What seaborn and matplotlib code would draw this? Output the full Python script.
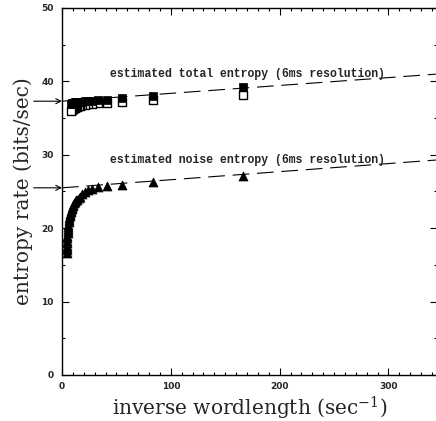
import pandas as pd
import matplotlib
matplotlib.use("Agg")
import matplotlib.pyplot as plt
import seaborn as sns
from matplotlib.ticker import MultipleLocator

# --- data ---
# inverse wordlength (1/sec) for word lengths of 1, 2, 3 ... bins of 6 ms
total_x = [166.7, 83.3, 55.6, 41.7, 33.3, 27.8, 23.8, 20.8, 18.5, 16.7,
           15.2, 13.9, 12.8, 11.9, 11.1, 10.4, 9.8, 9.26, 8.77, 8.33]
total_filled = [39.2, 38.0, 37.75, 37.5, 37.4, 37.35, 37.3, 37.3, 37.25, 37.25,
                37.2, 37.2, 37.2, 37.15, 37.1, 37.1, 37.05, 37.0, 36.95, 36.9]
total_open = [38.1, 37.4, 37.2, 37.1, 37.0, 36.95, 36.9, 36.8, 36.75, 36.7,
              36.6, 36.5, 36.45, 36.4, 36.35, 36.3, 36.25, 36.2, 36.1, 36.0]

noise_x = [166.7, 83.3, 55.6, 41.7, 33.3, 27.8, 23.8, 20.8, 18.5, 16.7,
           15.2, 13.9, 12.8, 11.9, 11.1, 10.4, 9.8, 9.26, 8.77, 8.33,
           7.94, 7.58, 7.25, 6.94, 6.67, 6.41, 6.17, 5.95, 5.75, 5.56,
           5.38, 5.21, 5.05, 4.90, 4.76, 4.63, 4.51, 4.39, 4.27, 4.17]
noise_y = [27.1, 26.3, 25.9, 25.8, 25.6, 25.4, 25.2, 24.9, 24.6, 24.3,
           24.1, 23.9, 23.8, 23.6, 23.4, 23.2, 23.0, 22.8, 22.6, 22.4,
           22.2, 22.0, 21.8, 21.6, 21.35, 21.1, 20.8, 20.5, 20.2, 19.9,
           19.6, 19.3, 18.9, 18.6, 18.3, 18.0, 17.6, 17.3, 17.0, 16.6]

# linear extrapolations to infinite word length
fit_x = [0, 345]
total_fit = [37.3, 41.0]
noise_fit = [25.5, 29.3]

sns.set_theme(style="ticks")
plt.rcParams['font.family'] = ['DejaVu Serif']
plt.rcParams['mathtext.fontset'] = 'dejavuserif'

fig = plt.figure(figsize=(4.36, 4.21), dpi=100)
ax = fig.add_axes([0.1422, 0.1093, 0.861, 0.8717])

df_total = pd.DataFrame({'x': total_x, 'filled': total_filled, 'open': total_open})
df_noise = pd.DataFrame({'x': noise_x, 'y': noise_y})
df_fit = pd.DataFrame({'x': fit_x, 'total': total_fit, 'noise': noise_fit})

# dashed fit lines
for col in ['total', 'noise']:
    sns.lineplot(data=df_fit, x='x', y=col, ax=ax, color='black', lw=0.8,
                 zorder=1)
for line in ax.lines:
    line.set_dashes((15, 7))

# markers
sns.scatterplot(data=df_total, x='x', y='open', ax=ax, marker='s', s=26,
                facecolor='white', edgecolor='black', linewidth=1.0, zorder=2)
sns.scatterplot(data=df_total, x='x', y='filled', ax=ax, marker='s', s=26,
                color='black', edgecolor='black', linewidth=0.5, zorder=3)
sns.scatterplot(data=df_noise, x='x', y='y', ax=ax, marker='^', s=42,
                color='black', edgecolor='black', linewidth=0.5, zorder=3)

# arrows marking the extrapolated values
for yv in [total_fit[0], noise_fit[0]]:
    ax.annotate('', xy=(0, yv), xytext=(-26, yv), annotation_clip=False,
                arrowprops=dict(arrowstyle='->', color='black', lw=0.8,
                                shrinkA=0, shrinkB=0, mutation_scale=9))

txt_kw = dict(fontsize=8.3, fontfamily='Liberation Mono', fontweight='bold',
              ha='left', va='baseline')
ax.text(44, 40.6, 'estimated total entropy (6ms resolution)', **txt_kw)
ax.text(44, 28.9, 'estimated noise entropy (6ms resolution)', **txt_kw)

ax.set_xlim(0, 345)
ax.set_ylim(0, 50)
ax.xaxis.set_major_locator(MultipleLocator(100))
ax.xaxis.set_minor_locator(MultipleLocator(10))
ax.yaxis.set_major_locator(MultipleLocator(10))
ax.yaxis.set_minor_locator(MultipleLocator(5))
ax.tick_params(which='both', direction='in', top=True, right=True,
               width=0.8, color='black')
ax.tick_params(which='major', length=5)
ax.tick_params(which='minor', length=2.2)
ax.tick_params(axis='x', pad=5)
ax.tick_params(axis='y', pad=6)
for lab in ax.get_xticklabels() + ax.get_yticklabels():
    lab.set_fontfamily('DejaVu Sans')
    lab.set_fontweight('bold')
    lab.set_fontsize(6.5)
for sp in ax.spines.values():
    sp.set_linewidth(1.0)
    sp.set_color('black')

ax.set_xlabel(r'inverse wordlength (sec$^{-1}$)', fontsize=14.5, labelpad=3)
ax.set_ylabel('entropy rate (bits/sec)', fontsize=14.5, labelpad=6)

plt.savefig('out.png', dpi=100)
plt.close()
